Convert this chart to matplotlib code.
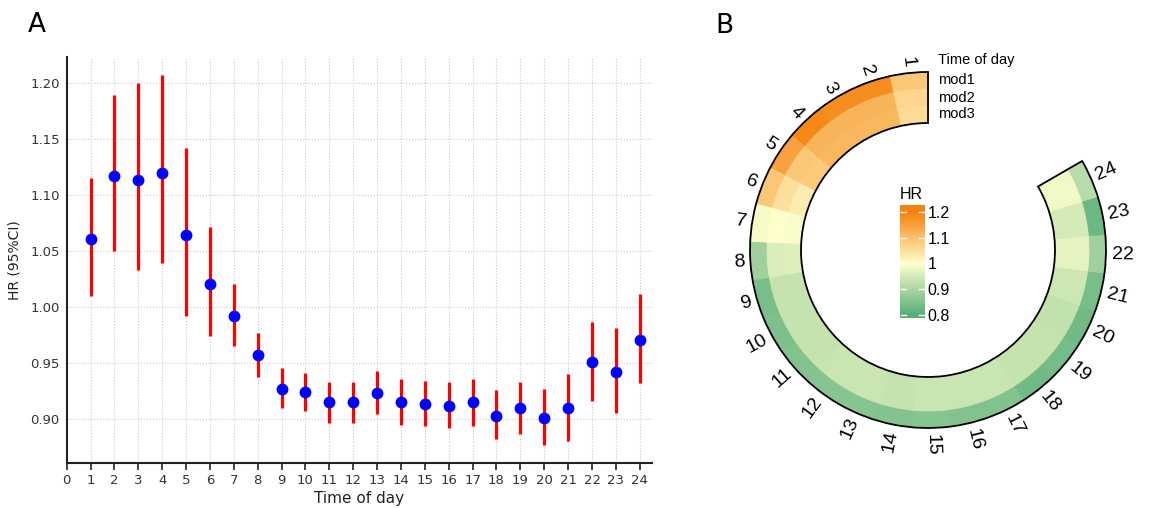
import matplotlib
matplotlib.use("Agg")
import matplotlib.pyplot as plt
import numpy as np
from matplotlib.colors import LinearSegmentedColormap, Normalize
from matplotlib.patches import Wedge

# ---- panel A data: hazard ratio by hour with 95% CI ----
hours = list(range(1, 25))
hr = [1.061, 1.117, 1.113, 1.120, 1.064, 1.021, 0.992, 0.957, 0.927, 0.924, 0.915, 0.915,
      0.923, 0.915, 0.914, 0.912, 0.915, 0.903, 0.910, 0.901, 0.910, 0.951, 0.942, 0.971]
ci_low = [1.010, 1.050, 1.033, 1.039, 0.992, 0.974, 0.965, 0.938, 0.910, 0.907, 0.897, 0.897,
          0.905, 0.895, 0.894, 0.892, 0.894, 0.882, 0.887, 0.877, 0.881, 0.916, 0.906, 0.932]
ci_high = [1.115, 1.189, 1.200, 1.207, 1.142, 1.071, 1.021, 0.977, 0.946, 0.941, 0.933, 0.933,
           0.943, 0.936, 0.934, 0.933, 0.936, 0.926, 0.933, 0.927, 0.940, 0.987, 0.981, 1.012]

# ---- panel B data: HR per hour for three models ----
mod_names = ["mod1", "mod2", "mod3"]
mod1 = [1.09, 1.18, 1.18, 1.19, 1.15, 1.09, 0.99, 0.885, 0.84, 0.845, 0.85, 0.855,
        0.855, 0.85, 0.855, 0.85, 0.85, 0.83, 0.835, 0.83, 0.84, 0.885, 0.825, 0.915]
mod2 = [1.065, 1.12, 1.12, 1.12, 1.09, 1.05, 1.0, 0.955, 0.93, 0.93, 0.93, 0.935,
        0.935, 0.93, 0.935, 0.935, 0.935, 0.93, 0.93, 0.925, 0.94, 0.97, 0.95, 0.985]
mod3 = [1.055, 1.115, 1.115, 1.115, 1.085, 1.03, 0.995, 0.96, 0.93, 0.93, 0.93, 0.935,
        0.937, 0.93, 0.935, 0.935, 0.935, 0.93, 0.93, 0.925, 0.94, 0.97, 0.948, 0.985]
cbar_ticks = [0.8, 0.9, 1.0, 1.1, 1.2]
cbar_labels = ["0.8", "0.9", "1", "1.1", "1.2"]

fig = plt.figure(figsize=(11.49, 5.08), dpi=100)

# ================= Panel A =================
ax = fig.add_axes([66.7 / 1149, 1 - 463 / 508, 585 / 1149, 406 / 508])
ax.vlines(hours, ci_low, ci_high, color="red", lw=2.3, zorder=3)
ax.plot(hours, hr, "o", color="blue", ms=7.5, zorder=4)
ax.set_xlim(0, 24.5)
ax.set_ylim(0.861, 1.223)
ax.set_xticks(range(0, 25))
ax.set_yticks([0.90, 0.95, 1.00, 1.05, 1.10, 1.15, 1.20])
ax.set_yticklabels([f"{v:.2f}" for v in [0.90, 0.95, 1.00, 1.05, 1.10, 1.15, 1.20]])
ax.grid(True, color="#c8c8c8", ls=":", lw=0.8)
ax.set_axisbelow(True)
for s in ["top", "right"]:
    ax.spines[s].set_visible(False)
for s in ["left", "bottom"]:
    ax.spines[s].set_linewidth(1.5)
    ax.spines[s].set_color("#222222")
ax.tick_params(axis="x", direction="out", length=5, width=1.2, color="#222222",
               labelsize=9.5, labelcolor="#333333", pad=3)
ax.tick_params(axis="y", length=0, labelsize=9.5, labelcolor="#333333", pad=5)
ax.set_xlabel("Time of day", fontsize=11, color="#222222", labelpad=3)
ax.set_ylabel("HR (95%CI)", fontsize=10, color="#222222", labelpad=6)
fig.text(28 / 1149, 1 - 32 / 508, "A", fontsize=19)

# ================= Panel B =================
cmap = LinearSegmentedColormap.from_list("hr", ["#58ae7a", "#ffffcc", "#f5820d"])
norm = Normalize(0.8, 1.2)

axb = fig.add_axes([700 / 1149, 0, 449 / 1149, 1])
axb.set_xlim(700, 1149)
axb.set_ylim(0, 508)
axb.axis("off")

cx, cy = 928, 508 - 250
r_out, ring_w = 178, 17
start, step = 90.0, 300.0 / 24
font_b = ["Liberation Sans", "DejaVu Sans"]

for k, vals in enumerate([mod1, mod2, mod3]):
    ro = r_out - k * ring_w
    for i, v in enumerate(vals):
        c = cmap(norm(v))
        axb.add_patch(Wedge((cx, cy), ro, start + i * step, start + (i + 1) * step,
                            width=ring_w, facecolor=c, edgecolor=c, lw=0.5))
axb.add_patch(Wedge((cx, cy), r_out, start, start + 24 * step, width=3 * ring_w,
                    facecolor="none", edgecolor="black", lw=1.3, zorder=5))

for i, h in enumerate(hours):
    a = (start + (i + 0.5) * step) % 360
    x = cx + 184 * np.cos(np.radians(a))
    y = cy + 184 * np.sin(np.radians(a))
    if 90 < a < 270:
        rot, ha = a - 180, "right"
    else:
        rot, ha = a, "left"
    axb.text(x, y, str(h), rotation=rot, rotation_mode="anchor", ha=ha, va="center",
             fontsize=14, family=font_b)

axb.text(cx + 10, cy + 190, "Time of day", fontsize=10.5, va="center", family=font_b)
for k, name in enumerate(mod_names):
    axb.text(cx + 10, cy + r_out - (k + 0.5) * ring_w, name, fontsize=10.5,
             va="center", family=font_b)

# colour legend
cax = fig.add_axes([900 / 1149, 1 - 318 / 508, 25 / 1149, 113 / 508])
lo, hi = 0.788, 1.227
grad = np.linspace(lo, hi, 200).reshape(-1, 1)
cax.imshow(grad, cmap=cmap, norm=norm, aspect="auto", origin="lower",
           extent=[0, 1, lo, hi])
cax.set_xlim(0, 1)
cax.set_ylim(lo, hi)
for t in cbar_ticks:
    cax.plot([0.05, 0.25], [t, t], color="white", lw=1)
    cax.plot([0.75, 0.95], [t, t], color="white", lw=1)
cax.set_xticks([])
cax.yaxis.tick_right()
cax.set_yticks(cbar_ticks)
cax.set_yticklabels(cbar_labels, family=font_b)
cax.tick_params(axis="y", length=0, labelsize=11.5, pad=2)
for s in cax.spines.values():
    s.set_visible(False)
cax.set_title("HR", fontsize=11.5, loc="left", pad=4, family=font_b)

fig.text(715 / 1149, 1 - 33 / 508, "B", fontsize=19)

fig.savefig("out.png", dpi=100)
